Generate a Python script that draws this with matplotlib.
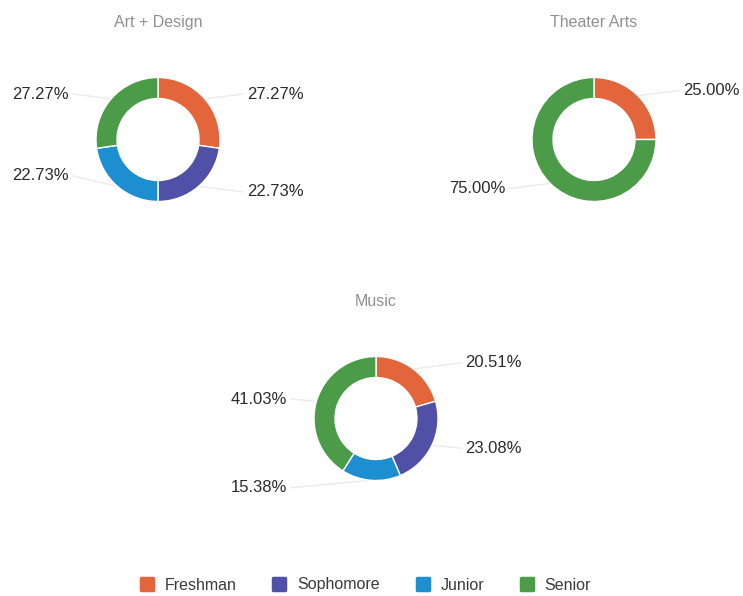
import numpy as np
import matplotlib
matplotlib.use("Agg")
import matplotlib.pyplot as plt
from matplotlib.lines import Line2D
from matplotlib.markers import MarkerStyle

plt.rcParams['font.family'] = ['Liberation Sans', 'DejaVu Sans']

classes = ["Freshman", "Sophomore", "Junior", "Senior"]
colors = ["#E2653C", "#5050A6", "#1D8FD1", "#4C9B49"]

programs = ["Art + Design", "Theater Arts", "Music"]
art_design = [27.27, 22.73, 22.73, 27.27]
theater_arts = [25.00, 0.0, 0.0, 75.00]
music = [20.51, 23.08, 15.38, 41.03]
shares = [art_design, theater_arts, music]

# donut centres in pixels (x from left, y from top)
centres = [(158, 139.5), (594, 139.5), (376, 418.5)]
# small vertical shift for labels that would otherwise sit too low
label_nudge = {("Art + Design", "Junior"): 16}

W, H = 743, 596
R, RING = 62, 21
AX_W, AX_H = 320, 260

fig = plt.figure(figsize=(W / 100, H / 100), dpi=100)
fig.patch.set_facecolor("white")

for name, vals, (cx, cy) in zip(programs, shares, centres):
    ax = fig.add_axes([(cx - AX_W / 2) / W, (H - cy - AX_H / 2) / H, AX_W / W, AX_H / H])

    keep = [i for i, v in enumerate(vals) if v > 0]
    wedges, _ = ax.pie([vals[i] for i in keep], colors=[colors[i] for i in keep],
                       radius=R, startangle=90, counterclock=False,
                       wedgeprops=dict(width=RING, edgecolor="white", linewidth=1))
    # pie() resets the limits, so work in pixel units afterwards
    ax.set_xlim(-AX_W / 2, AX_W / 2)
    ax.set_ylim(-AX_H / 2, AX_H / 2)
    ax.set_aspect("equal")
    ax.axis("off")

    for w, i in zip(wedges, keep):
        theta = np.deg2rad((w.theta1 + w.theta2) / 2)
        px, py = R * np.cos(theta), R * np.sin(theta)
        ly = 1.12 * R * np.sin(theta) + label_nudge.get((name, classes[i]), 0)
        side = 1 if np.cos(theta) >= 0 else -1
        ax.plot([px, side * 85], [py, ly], color="#ebebeb", lw=1, zorder=0)
        ax.text(side * 89, ly, f"{vals[i]:.2f}%", ha="left" if side > 0 else "right",
                va="center", fontsize=12, color="#2b2b2b")

    ax.text(0, 117, name, ha="center", va="center", fontsize=11.5, color="#909090")

box = MarkerStyle("s", joinstyle="round")
handles = [Line2D([], [], marker=box, linestyle="none", markersize=9,
                  markeredgewidth=2.5, markerfacecolor=c, markeredgecolor=c)
           for c in colors]
fig.legend(handles, classes, loc="center", bbox_to_anchor=(365 / W, 11 / H),
           ncol=4, frameon=False, fontsize=11.5, handlelength=1.0,
           handletextpad=0.6, columnspacing=2.2, labelcolor="#3a3a3a")

fig.savefig("out.png", dpi=100, facecolor="white")
